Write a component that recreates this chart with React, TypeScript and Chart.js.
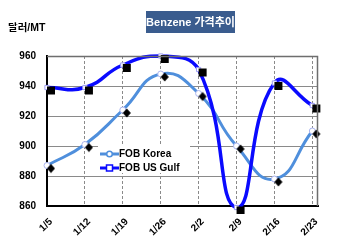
import React, { useEffect, useRef } from "react";
import { Chart, registerables } from "chart.js";

Chart.register(...registerables);

// ---- data ----
const categories = ["1/5", "1/12", "1/19", "1/26", "2/2", "2/9", "2/16", "2/23"];
const fobKorea = [887, 901, 924, 948, 935, 900, 878, 910];
const fobUsGulf = [939, 939, 954, 960, 951, 859, 942, 927];
const yTicks = [860, 880, 900, 920, 940, 960];
const seriesNames = ["FOB Korea", "FOB US Gulf"];
const titleText = "Benzene 가격추이";
const unitText = "달러/MT";

const KOREA_COLOR = "#4f8fdc";
const GULF_COLOR = "#0a0aff";
const FONT = "'Liberation Sans', Arial, 'Noto Sans CJK KR', sans-serif";

function makeMarker(kind: "diamond" | "square"): HTMLCanvasElement {
  const c = document.createElement("canvas");
  c.width = 24;
  c.height = 24;
  const g = c.getContext("2d")!;
  const cx = 12 + 4;
  const cy = 12 + 3;
  g.fillStyle = "#000";
  if (kind === "square") {
    g.fillRect(cx - 4, cy - 4, 8, 8);
  } else {
    g.beginPath();
    g.moveTo(cx, cy - 4.5);
    g.lineTo(cx + 4, cy);
    g.lineTo(cx, cy + 4.5);
    g.lineTo(cx - 4, cy);
    g.closePath();
    g.fill();
  }
  return c;
}

const toPoints = (vals: number[]) => vals.map((v, i) => ({ x: i, y: v }));

const framePlugin = {
  id: "frameAndLegend",
  afterDraw(chart: any) {
    const { ctx, chartArea } = chart;
    const { left, top, right, bottom } = chartArea;
    ctx.save();
    // top / right frame
    ctx.strokeStyle = "#6e6e6e";
    ctx.lineWidth = 1.5;
    ctx.beginPath();
    ctx.moveTo(left, top + 0.5);
    ctx.lineTo(right - 0.5, top + 0.5);
    ctx.lineTo(right - 0.5, bottom);
    ctx.stroke();

    // legend box inside plot
    const lx = left + 51;
    const ly = top + 90;
    ctx.fillStyle = "#ffffff";
    ctx.fillRect(lx, ly, 92, 27);
    const rows = [
      { name: seriesNames[0], color: KOREA_COLOR, shape: "circle", y: ly + 8 },
      { name: seriesNames[1], color: GULF_COLOR, shape: "square", y: ly + 22 },
    ];
    rows.forEach((r) => {
      ctx.strokeStyle = r.color;
      ctx.lineWidth = 3;
      ctx.beginPath();
      ctx.moveTo(lx + 2, r.y);
      ctx.lineTo(lx + 21, r.y);
      ctx.stroke();
      ctx.fillStyle = "#fff";
      ctx.lineWidth = 1.5;
      const mx = lx + 11.5;
      if (r.shape === "circle") {
        ctx.beginPath();
        ctx.arc(mx, r.y, 2.8, 0, Math.PI * 2);
        ctx.fill();
        ctx.stroke();
      } else {
        ctx.fillRect(mx - 3, r.y - 3, 6, 6);
        ctx.strokeRect(mx - 3, r.y - 3, 6, 6);
      }
      ctx.fillStyle = "#000";
      ctx.font = `bold 10px ${FONT}`;
      ctx.textAlign = "left";
      ctx.textBaseline = "middle";
      ctx.fillText(r.name, lx + 21, r.y + 0.5);
    });
    ctx.restore();
  },
};

export default function App() {
  const ref = useRef<HTMLCanvasElement | null>(null);

  useEffect(() => {
    if (!ref.current) return;
    const diamond = makeMarker("diamond");
    const square = makeMarker("square");
    const chart = new Chart(ref.current, {
      type: "line",
      data: {
        datasets: [
          {
            label: seriesNames[0] + " marker",
            data: toPoints(fobKorea),
            showLine: false,
            pointStyle: diamond as any,
            pointRadius: 4,
            order: 0,
            clip: 8,
          },
          {
            label: seriesNames[1] + " marker",
            data: toPoints(fobUsGulf),
            showLine: false,
            pointStyle: square as any,
            pointRadius: 4,
            order: 0,
            clip: 8,
          },
          {
            label: seriesNames[0],
            data: toPoints(fobKorea),
            borderColor: KOREA_COLOR,
            borderWidth: 3,
            tension: 0.5,
            pointRadius: 3,
            pointStyle: "circle",
            pointBackgroundColor: "#ffffff",
            pointBorderColor: "#a9b4f0",
            pointBorderWidth: 1,
            order: 2,
            clip: 8,
          },
          {
            label: seriesNames[1],
            data: toPoints(fobUsGulf),
            borderColor: GULF_COLOR,
            borderWidth: 3.5,
            tension: 0.5,
            pointRadius: 3,
            pointStyle: "rect",
            pointBackgroundColor: "#ffffff",
            pointBorderColor: "#9d9df5",
            pointBorderWidth: 1,
            order: 1,
            clip: 8,
          },
        ],
      },
      options: {
        responsive: false,
        animation: false,
        layout: { padding: { left: 0, top: 56, right: 32, bottom: 0 } },
        plugins: {
          legend: { display: false },
          title: { display: false },
          tooltip: { enabled: false },
        },
        scales: {
          x: {
            type: "linear",
            min: 0,
            max: categories.length - 1 + 0.15,
            afterBuildTicks: (axis: any) => {
              axis.ticks = categories.map((_, i) => ({ value: i }));
            },
            afterFit: (s: any) => {
              s.height = 40;
            },
            ticks: {
              autoSkip: false,
              minRotation: 45,
              maxRotation: 45,
              padding: 10,
              labelOffset: 4,
              color: "#000",
              font: { family: FONT, size: 10, weight: "bold" },
              callback: (v: any) => categories[Math.round(Number(v))] ?? "",
            },
            grid: { color: "#8a8a8a", lineWidth: 1, drawTicks: false },
            border: { display: true, color: "#000", width: 2, dash: [3, 2] },
          },
          y: {
            min: yTicks[0],
            max: yTicks[yTicks.length - 1],
            afterBuildTicks: (axis: any) => {
              axis.ticks = yTicks.map((v) => ({ value: v }));
            },
            afterFit: (s: any) => {
              s.width = 47;
            },
            ticks: {
              padding: 11,
              color: "#000",
              font: { family: FONT, size: 10, weight: "bold" },
            },
            grid: { color: "#8a8a8a", lineWidth: 1, drawTicks: false },
            border: { display: true, color: "#000", width: 2 },
          },
        },
      },
      plugins: [framePlugin],
    });
    return () => chart.destroy();
  }, []);

  return (
    <div style={{ position: "absolute", left: 0, top: 0, width: 350, height: 246, background: "#fff" }}>
      <canvas ref={ref} width={350} height={246} style={{ position: "absolute", left: 0, top: 0 }} />
      <div
        style={{
          position: "absolute",
          left: 8,
          top: 20,
          fontFamily: FONT,
          fontWeight: "bold",
          fontSize: 10.5,
          color: "#000",
          lineHeight: "14px",
          whiteSpace: "nowrap",
        }}
      >
        {unitText}
      </div>
      <div
        style={{
          position: "absolute",
          left: 146,
          top: 11,
          width: 89,
          height: 22,
          background: "#3a5c8e",
          color: "#fff",
          fontFamily: FONT,
          fontWeight: "bold",
          fontSize: 11,
          lineHeight: "22px",
          textAlign: "center",
          whiteSpace: "nowrap",
        }}
      >
        {titleText}
      </div>
    </div>
  );
}
